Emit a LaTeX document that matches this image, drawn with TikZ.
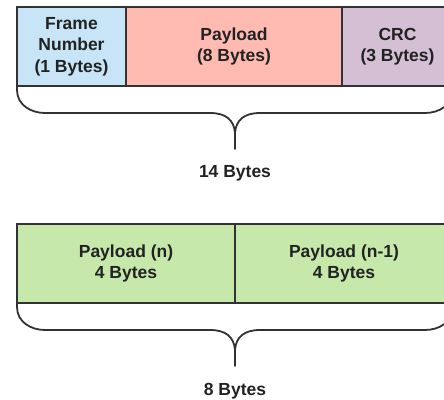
\documentclass[tikz,border=0pt]{standalone}
\usepackage{fontspec}
\setmainfont{Liberation Sans}
\usetikzlibrary{positioning}
\definecolor{linegray}{RGB}{50,50,50}
\definecolor{textgray}{RGB}{34,34,34}
\definecolor{framebl}{RGB}{199,229,246}
\definecolor{loadpk}{RGB}{255,187,177}
\definecolor{crcvi}{RGB}{213,191,213}
\definecolor{halfgr}{RGB}{199,232,171}
\tikzset{
	field/.style={draw=linegray, line width=1.8pt, minimum height=79pt, inner sep=0pt, outer sep=0pt, align=center, text=textgray, font=\bfseries\fontsize{17.5}{21.5}\selectfont},
	brace/.style={draw=linegray, line width=1.8pt, line cap=round, line join=round},
	total/.style={text=textgray, font=\bfseries\fontsize{17.5}{21.5}\selectfont}
}
% left x, right x, top y, tip y
\newcommand{\bytebrace}[4]{%
	\pgfmathsetmacro\mx{(#1+#2)/2}
	\pgfmathsetmacro\hy{#3+27}
	\draw[brace] (#1,#3) -- (#1,#3+4) .. controls (#1,\hy-8) and (#1+14,\hy) .. (#1+28,\hy) -- (\mx-25,\hy) .. controls (\mx-9,\hy) and (\mx-1,\hy+7) .. (\mx,\hy+20) -- (\mx,#4);
	\draw[brace] (\mx,\hy+20) .. controls (\mx+1,\hy+7) and (\mx+9,\hy) .. (\mx+25,\hy) -- (#2-28,\hy) .. controls (#2-14,\hy) and (#2,\hy-8) .. (#2,#3+4) -- (#2,#3);
}
\begin{document}
\begin{tikzpicture}[x=1pt,y=-1pt]
	\useasboundingbox (0,0) rectangle (444,399);
	\clip (0,0) rectangle (444,399);
	% frame layout
	\node[field, fill=framebl, minimum width=109pt, anchor=north west] (frame) at (17,7) {Frame\\Number\\(1 Bytes)};
	\node[field, fill=loadpk, minimum width=216pt, right=0pt of frame] (payload) {Payload\\(8 Bytes)};
	\node[field, fill=crcvi, minimum width=111pt, right=0pt of payload] (crc) {CRC\\(3 Bytes)};
	\bytebrace{17}{453}{86}{149}
	\node[total] (frametotal) at (235,173) {14 Bytes};
	% payload split
	\node[field, fill=halfgr, minimum width=218pt, anchor=north west] (loadn) at (17,224) {Payload (n)\\4 Bytes};
	\node[field, fill=halfgr, minimum width=218pt, right=0pt of loadn] (loadm) {Payload (n-1)\\4 Bytes};
	\bytebrace{17}{453}{303}{366}
	\node[total] (loadtotal) at (235,391) {8 Bytes};
\end{tikzpicture}
\end{document}
